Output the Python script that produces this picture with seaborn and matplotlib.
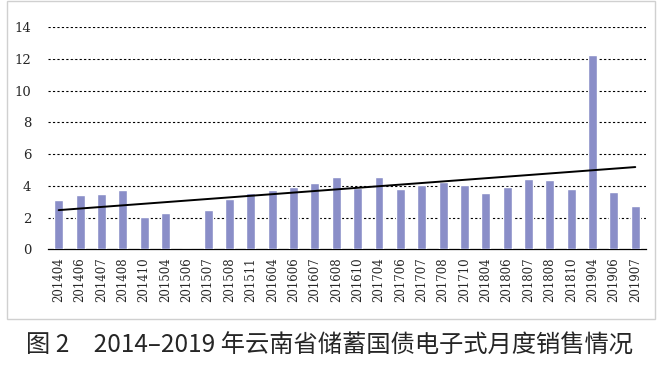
import numpy as np
import pandas as pd
import matplotlib
matplotlib.use('Agg')
import matplotlib.pyplot as plt
import seaborn as sns
from matplotlib.patches import Rectangle

# Monthly sales (100 million yuan)
months = ['201404', '201406', '201407', '201408', '201410', '201504', '201506',
          '201507', '201508', '201511', '201604', '201606', '201607', '201608',
          '201610', '201704', '201706', '201707', '201708', '201710', '201804',
          '201806', '201807', '201808', '201810', '201904', '201906', '201907']
sales = [3.1, 3.45, 3.5, 3.75, 2.05, 2.3, 0.0,
         2.48, 3.15, 3.57, 3.76, 3.95, 4.18, 4.58,
         3.85, 4.54, 3.8, 4.04, 4.25, 4.08, 3.53,
         3.95, 4.44, 4.35, 3.8, 12.26, 3.62, 2.71]
yticks = [0, 2, 4, 6, 8, 10, 12, 14]
caption = '图 2　2014–2019 年云南省储蓄国债电子式月度销售情况'

df = pd.DataFrame({'month': months, 'sales': sales})
df['idx'] = np.arange(len(df))

sns.set_style('white')
plt.rcParams['font.family'] = ['DejaVu Serif']

fig = plt.figure(figsize=(6.6, 3.65), dpi=100)
ax = fig.add_axes([0.0727, 0.317, 0.906, 0.609])

sns.barplot(x='month', y='sales', data=df, color='#8a8ec8', width=0.42,
            saturation=1, ax=ax, zorder=3)
sns.regplot(x='idx', y='sales', data=df, scatter=False, ci=None, ax=ax,
            line_kws={'color': 'black', 'lw': 1.4, 'zorder': 4})

ax.set_ylim(0, 14)
ax.set_xlim(-0.5, len(months) - 0.5)
ax.set_yticks(yticks)
ax.set_yticklabels([str(t) for t in yticks])
ax.set_xticks(range(len(months)))
ax.set_xticklabels(months, rotation=90)
ax.set_xlabel('')
ax.set_ylabel('')
ax.tick_params(axis='x', which='major', length=0, pad=6, labelsize=8.5,
               labelfontfamily='DejaVu Serif')
ax.tick_params(axis='y', length=0, pad=12, labelsize=9.5,
               labelfontfamily='DejaVu Serif')
ax.set_xticks(np.arange(-0.5, len(months), 1), minor=True)
ax.tick_params(axis='x', which='minor', length=4, width=0.8, color='black', direction='out')

for t in yticks[1:]:
    ax.axhline(t, color='black', lw=0.8, ls=(0, (2, 2)), zorder=1)

for s in ['top', 'right', 'left']:
    ax.spines[s].set_visible(False)
ax.spines['bottom'].set_color('black')
ax.spines['bottom'].set_linewidth(0.9)

fig.patches.append(Rectangle((7 / 660, 1 - 319 / 365), 648 / 660, 318 / 365,
                             transform=fig.transFigure, fill=False,
                             edgecolor='#d0d0d0', lw=1))

fig.text(0.5, 1 - 346 / 365, caption, ha='center', va='center', fontsize=17.5,
         family=['Noto Sans CJK SC', 'DejaVu Sans'])

fig.savefig('out.png', dpi=100)
